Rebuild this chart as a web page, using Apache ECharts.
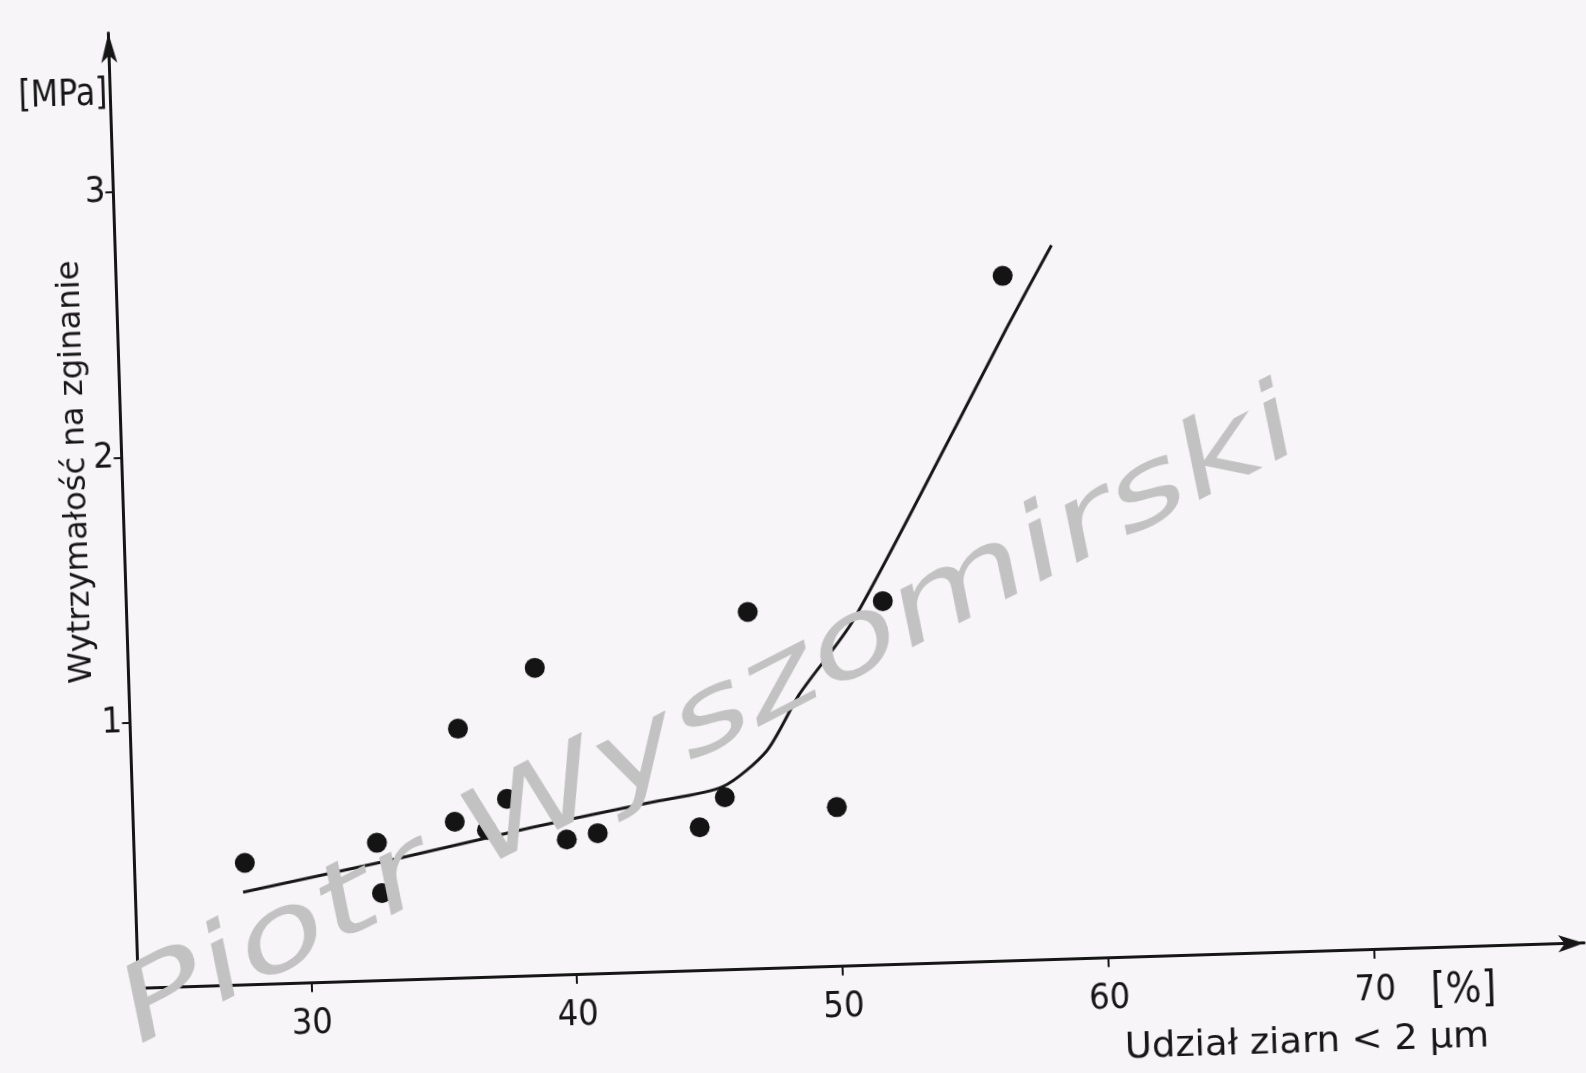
<!DOCTYPE html>
<html><head><meta charset="utf-8">
<script src="https://cdn.jsdelivr.net/npm/echarts@6/dist/echarts.min.js"></script>
<style>
html,body{margin:0;padding:0;width:1586px;height:1073px;overflow:hidden;background:#f8f5f8;}
#chart{position:absolute;left:-100px;top:-100px;width:1786px;height:1273px;transform:rotate(-1.8deg);transform-origin:50% 50%;}
</style></head><body><div id="chart"></div>
<script>
const xTicks = [30, 40, 50, 60, 70];
const yTicks = [1, 2, 3];
const pointX = [27.65, 32.64, 32.77, 35.82, 35.59, 36.79, 37.58, 38.78, 39.78, 40.95, 44.79, 45.77, 46.85, 49.97, 51.94, 56.83];
const pointY = [0.46, 0.52, 0.33, 0.94, 0.59, 0.555, 0.67, 1.16, 0.51, 0.53, 0.54, 0.65, 1.345, 0.60, 1.37, 2.58];
const curveX = [27.55, 33.5, 38.5, 43.0, 45.7, 47.4, 48.7, 50.8, 54.9, 56.9, 58.7];
const curveY = [0.35, 0.46, 0.56, 0.64, 0.69, 0.82, 1.03, 1.30, 2.02, 2.38, 2.69];
const yTitle = 'Wytrzymałość na zginanie';
const yUnit = '[MPa]';
const xTitle = 'Udział ziarn < 2 μm';
const xUnit = '[%]';
const watermark = 'Piotr Wyszomirski';

const narrow = "'Liberation Sans Narrow','DejaVu Sans Condensed','DejaVu Sans',sans-serif";
const ink = '#161616';

const chart = echarts.init(document.getElementById('chart'), null, {renderer: 'canvas'});
chart.setOption({
  backgroundColor: '#f8f5f8',
  animation: false,
  grid: {left: 224.5, right: 115, top: 111.8, bottom: 197.4, containLabel: false},
  xAxis: {
    type: 'value', min: 23.5, max: 77.9,
    axisLine: {show: true, symbol: ['none', 'arrow'], symbolSize: [13, 26], lineStyle: {color: ink, width: 3}},
    axisTick: {show: true, length: 9, customValues: xTicks, lineStyle: {color: ink, width: 2}},
    axisLabel: {show: true, customValues: xTicks, margin: 15, fontFamily: narrow, fontSize: 36, color: ink},
    splitLine: {show: false}
  },
  yAxis: {
    type: 'value', min: -0.03, max: 3.6,
    axisLine: {show: true, symbol: ['none', 'arrow'], symbolSize: [12, 30], lineStyle: {color: ink, width: 3}},
    axisTick: {show: true, length: 8, customValues: yTicks, lineStyle: {color: ink, width: 2}},
    axisLabel: {show: true, customValues: yTicks, margin: 8, fontFamily: narrow, fontSize: 36, color: ink},
    splitLine: {show: false}
  },
  series: [
    {
      type: 'line',
      data: curveX.map((x, i) => [x, curveY[i]]),
      smooth: 0.25,
      showSymbol: false,
      lineStyle: {color: ink, width: 3},
      z: 2
    },
    {
      type: 'scatter',
      data: pointX.map((x, i) => [x, pointY[i]]),
      symbol: 'circle', symbolSize: 20,
      itemStyle: {color: '#141414', opacity: 1},
      z: 3
    }
  ],
  graphic: [
    {type: 'text', x: 178.4, y: 549.5, rotation: Math.PI / 2, scaleX: 1.12,
     style: {text: yTitle, fontFamily: narrow, fontSize: 32, fill: ink, align: 'center', verticalAlign: 'middle'}},
    {type: 'text', x: 177.2, y: 173.3, scaleX: 0.95,
     style: {text: yUnit, fontFamily: narrow, fontSize: 37, fill: ink, align: 'center', verticalAlign: 'middle'}},
    {type: 'text', x: 1390.8, y: 1158.8, scaleX: 1.14,
     style: {text: xTitle, fontFamily: narrow, fontSize: 36, fill: ink, align: 'center', verticalAlign: 'middle'}},
    {type: 'text', x: 1549, y: 1112.2,
     style: {text: xUnit, fontFamily: narrow, fontSize: 42, fill: ink, align: 'center', verticalAlign: 'middle'}},
    {type: 'text', x: 805, y: 818, rotation: 25.4 * Math.PI / 180, scaleX: 1.42, z: 100,
     style: {text: watermark, fontFamily: 'DejaVu Sans', fontStyle: 'italic', fontSize: 104, fill: '#c2c2c2', align: 'center', verticalAlign: 'middle'}}
  ]
});
</script></body></html>
